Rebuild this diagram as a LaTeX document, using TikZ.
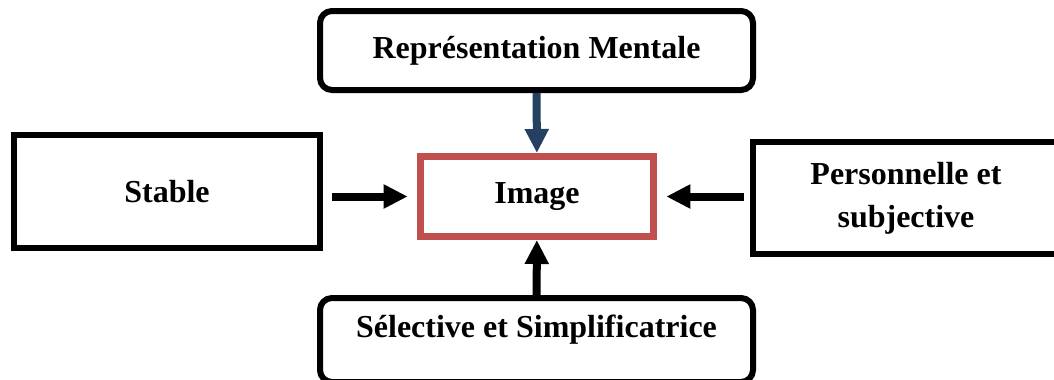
\documentclass[tikz,border=0pt]{standalone}
\usepackage{fontspec}
\setmainfont{Liberation Serif}
\usetikzlibrary{arrows.meta}
\definecolor{rougecadre}{RGB}{192,80,77}
\definecolor{bleufleche}{RGB}{37,64,97}

\begin{document}
\begin{tikzpicture}[x=0.75pt,y=-0.75pt,line width=4.5pt,>={Triangle[length=18pt,width=17pt]},
  boite/.style={draw,align=center,inner sep=0pt,font=\fontsize{24}{32}\selectfont\bfseries},
  fleche/.style={->,line width=6pt}]
  \useasboundingbox (0,0) rectangle (1054,379);
  \clip (0,0) rectangle (1054,379);
  % cadre central
  \node[boite,draw=rougecadre,line width=5.25pt,minimum width=174.75pt,minimum height=60pt] (image) at (537,196.5) {Image};
  % les quatre caracteristiques
  \node[boite,rounded corners=9pt,minimum width=324.75pt,minimum height=59.25pt] (mentale) at (536.5,50.5) {Représentation Mentale};
  \node[boite,minimum width=229.5pt,minimum height=84.75pt] (stable) at (167,191.5) {Stable};
  \node[boite,minimum width=229.5pt,minimum height=84pt] (perso) at (906,198) {Personnelle et\\subjective};
  \node[boite,rounded corners=9pt,text depth=20pt,minimum width=324.75pt,minimum height=63pt] (selective) at (536.5,340) {Sélective et Simplificatrice};
  % fleches vers l'image
  \draw[fleche,bleufleche] (mentale) -- (image);
  \draw[fleche,shorten <=6.75pt,shorten >=7pt] (image.west -| stable.east) -- (image.west);
  \draw[fleche,shorten <=4.5pt,shorten >=7pt] (image.east -| perso.west) -- (image.east);
  \draw[fleche] (selective) -- (image);
\end{tikzpicture}
\end{document}
